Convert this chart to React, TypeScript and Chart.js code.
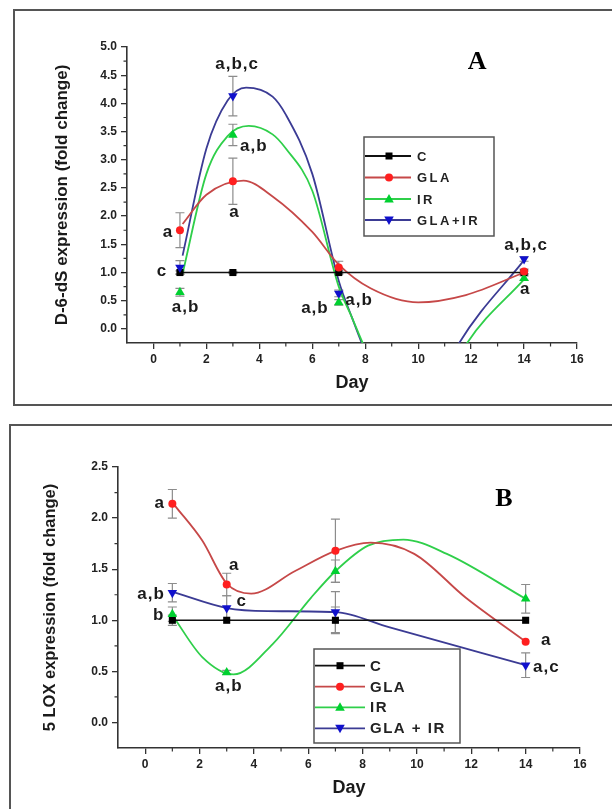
import React, { useEffect, useRef } from 'react';
import { Chart, registerables } from 'chart.js';

Chart.register(...registerables);

const SANS = '"Liberation Sans", Arial, Helvetica, sans-serif';
const SERIF = '"Liberation Serif", "Times New Roman", serif';

// ---------- shared ----------
const days = [1, 3, 7, 14];

// ---------- Panel A : D-6-dS ----------
const aC = [1.0, 1.0, 1.0, 1.0];
const aGLA = [1.75, 2.62, 1.09, 1.02];
const aIR = [0.65, 3.44, 0.47, 0.9];
const aGLAIR = [1.09, 4.13, 0.63, 1.24];
const aCErr = [0.03, 0.02, 0.03, 0.03];
const aGLAErr = [0.31, 0.41, 0.11, 0.04];
const aIRErr = [0.07, 0.19, 0.05, 0.04];
const aGLAIRErr = [0.12, 0.35, 0.06, 0.04];
// fitted spline curves
const aGLAFitX = [1.1, 2.0, 3.4, 4.5, 6.0, 7.0, 8.2, 10.0, 11.8, 14.0];
const aGLAFitY = [1.86, 2.38, 2.63, 2.35, 1.72, 1.14, 0.72, 0.47, 0.6, 1.0];
const aIRFitX = [1.1, 2.0, 2.8, 3.6, 4.5, 5.0, 6.0, 7.0, 7.5, 8.0, 9.9, 11.85, 14.0];
const aIRFitY = [0.98, 2.75, 3.42, 3.6, 3.45, 3.2, 2.45, 0.75, 0.2, -0.35, -2.0, -0.25, 0.88];
const aGLAIRFitX = [1.1, 2.0, 2.8, 3.5, 4.5, 5.0, 6.0, 7.0, 7.5, 8.0, 9.7, 11.55, 14.0];
const aGLAIRFitY = [1.3, 3.2, 4.05, 4.28, 4.12, 3.8, 2.75, 0.85, 0.2, -0.4, -2.0, -0.25, 1.22];
const aLegend = ['C', 'GLA', 'IR', 'GLA+IR'];
const aNotes = [
  { t: 'a,b,c', x: 3.16, y: 4.69 },
  { t: 'a,b', x: 3.79, y: 3.23 },
  { t: 'a', x: 3.06, y: 2.06 },
  { t: 'a', x: 0.55, y: 1.72 },
  { t: 'c', x: 0.32, y: 1.03 },
  { t: 'a,b', x: 1.21, y: 0.39 },
  { t: 'a,b', x: 6.1, y: 0.37 },
  { t: 'a,b', x: 7.77, y: 0.5 },
  { t: 'a,b,c', x: 14.08, y: 1.48 },
  { t: 'a', x: 14.04, y: 0.71 },
];

// ---------- Panel B : 5 LOX ----------
const bC = [1.0, 1.0, 1.0, 1.0];
const bGLA = [2.14, 1.35, 1.68, 0.79];
const bIR = [1.06, 0.49, 1.48, 1.21];
const bGLAIR = [1.27, 1.12, 1.08, 0.56];
const bCErr = [0.05, 0.0, 0.13, 0.0];
const bGLAErr = [0.14, 0.11, 0.31, 0.0];
const bIRErr = [0.07, 0.02, 0.11, 0.14];
const bGLAIRErr = [0.09, 0.12, 0.2, 0.12];
const bGLAFitX = [1.1, 2.1, 3.0, 3.9, 5.5, 7.0, 8.3, 9.9, 11.8, 14.0];
const bGLAFitY = [2.12, 1.78, 1.36, 1.26, 1.48, 1.68, 1.76, 1.65, 1.22, 0.79];
const bIRFitX = [1.05, 2.1, 3.25, 4.7, 6.1, 7.0, 8.2, 9.5, 11.1, 14.0];
const bIRFitY = [1.03, 0.64, 0.47, 0.77, 1.22, 1.48, 1.73, 1.79, 1.65, 1.21];
const bGLAIRFitX = [1.1, 3.0, 4.5, 7.0, 9.0, 14.0];
const bGLAIRFitY = [1.27, 1.12, 1.09, 1.08, 0.93, 0.56];
const bLegend = ['C', 'GLA', 'IR', 'GLA + IR'];
const bNotes = [
  { t: 'a', x: 0.54, y: 2.14 },
  { t: 'a', x: 3.28, y: 1.54 },
  { t: 'a,b', x: 0.22, y: 1.25 },
  { t: 'c', x: 3.55, y: 1.19 },
  { t: 'b', x: 0.5, y: 1.05 },
  { t: 'a,b', x: 3.08, y: 0.35 },
  { t: 'a', x: 14.76, y: 0.8 },
  { t: 'a,c', x: 14.76, y: 0.54 },
];

const STYLE = {
  C: { line: '#111111', marker: '#000000', shape: 'rect' },
  GLA: { line: '#c64848', marker: '#ff1f1f', shape: 'circle' },
  IR: { line: '#2fcf4a', marker: '#00d030', shape: 'triUp' },
  GLAIR: { line: '#3b3b94', marker: '#1010cc', shape: 'triDown' },
};

function makeSeries(c, g, i, gi, ce, ge, ie, gie, gfx, gfy, ifx, ify, gifx, gify) {
  return [
    { key: 'C', values: c, err: ce, fitX: null, fitY: null },
    { key: 'GLA', values: g, err: ge, fitX: gfx, fitY: gfy },
    { key: 'IR', values: i, err: ie, fitX: ifx, fitY: ify },
    { key: 'GLAIR', values: gi, err: gie, fitX: gifx, fitY: gify },
  ];
}

const panelA = {
  series: makeSeries(aC, aGLA, aIR, aGLAIR, aCErr, aGLAErr, aIRErr, aGLAIRErr,
    aGLAFitX, aGLAFitY, aIRFitX, aIRFitY, aGLAIRFitX, aGLAIRFitY),
  yMin: -0.25, yMax: 5.0,
  yTitle: 'D-6-dS expression (fold change)', yTitleSize: 17, yTitlePad: 51.8,
  padding: { left: 0, right: 35, top: 47, bottom: 5 },
  yWidth: 127,
  legendLabels: aLegend,
  legend: { l: 364, t: 137, r: 494, b: 236, rows: [156, 177.5, 199, 220], x0: 365, x1: 411, mx: 389, tx: 417, size: 13, spacing: '2.5px' },
  notes: aNotes,
  letter: { t: 'A', x: 12.23, y: 4.73 },
};

const panelB = {
  series: makeSeries(bC, bGLA, bIR, bGLAIR, bCErr, bGLAErr, bIRErr, bGLAIRErr,
    bGLAFitX, bGLAFitY, bIRFitX, bIRFitY, bGLAIRFitX, bGLAIRFitY),
  yMin: -0.25, yMax: 2.5,
  yTitle: '5 LOX expression (fold change)', yTitleSize: 16.5, yTitlePad: 40.2,
  padding: { left: 0, right: 32, top: 59, bottom: 1 },
  yWidth: 118,
  legendLabels: bLegend,
  legend: { l: 314, t: 241, r: 460, b: 335, rows: [257.7, 278.7, 299.3, 320.3], x0: 315, x1: 365, mx: 340, tx: 370, size: 15, spacing: '1.5px' },
  notes: bNotes,
  letter: { t: 'B', x: 13.2, y: 2.18 },
};

function drawMarker(ctx, shape, x, y, color) {
  ctx.fillStyle = color;
  ctx.beginPath();
  if (shape === 'rect') ctx.rect(x - 3.5, y - 3.5, 7, 7);
  else if (shape === 'circle') ctx.arc(x, y, 4, 0, Math.PI * 2);
  else if (shape === 'triUp') { ctx.moveTo(x, y - 5); ctx.lineTo(x + 4.8, y + 3.5); ctx.lineTo(x - 4.8, y + 3.5); ctx.closePath(); }
  else { ctx.moveTo(x, y + 5); ctx.lineTo(x + 4.8, y - 3.5); ctx.lineTo(x - 4.8, y - 3.5); ctx.closePath(); }
  ctx.fill();
}

function makeDecor(p) {
  return {
    id: 'decor',
    beforeDatasetsDraw(chart) {
      const { ctx } = chart;
      const x = chart.scales.x, y = chart.scales.y;
      ctx.save();
      ctx.strokeStyle = '#8c8c8c';
      ctx.lineWidth = 1.2;
      p.series.forEach((s) => s.values.forEach((v, i) => {
        const e = s.err[i];
        if (!e) return;
        const px = x.getPixelForValue(days[i]);
        const t = y.getPixelForValue(v + e), b = y.getPixelForValue(v - e);
        ctx.beginPath();
        ctx.moveTo(px, t); ctx.lineTo(px, b);
        ctx.moveTo(px - 4.5, t); ctx.lineTo(px + 4.5, t);
        ctx.moveTo(px - 4.5, b); ctx.lineTo(px + 4.5, b);
        ctx.stroke();
      }));
      ctx.restore();
    },
    afterDraw(chart) {
      const { ctx, chartArea } = chart;
      const x = chart.scales.x, y = chart.scales.y;
      ctx.save();
      // minor ticks
      ctx.strokeStyle = '#333';
      ctx.lineWidth = 1.2;
      ctx.beginPath();
      for (let v = 0.25; v < p.yMax; v += 0.5) {
        const py = y.getPixelForValue(v);
        ctx.moveTo(chartArea.left - 3.5, py); ctx.lineTo(chartArea.left, py);
      }
      for (let d = 1; d < 16; d += 2) {
        const px = x.getPixelForValue(d);
        ctx.moveTo(px, chartArea.bottom); ctx.lineTo(px, chartArea.bottom + 3.5);
      }
      ctx.stroke();

      // annotation letters
      ctx.fillStyle = '#1a1a1a';
      ctx.textAlign = 'center';
      ctx.textBaseline = 'middle';
      ctx.font = `bold 17px ${SANS}`;
      (ctx as any).letterSpacing = '1px';
      p.notes.forEach((n) => {
        ctx.fillText(n.t, x.getPixelForValue(n.x), y.getPixelForValue(n.y));
      });
      (ctx as any).letterSpacing = '0px';

      // panel letter
      ctx.font = `bold 26px ${SERIF}`;
      ctx.fillStyle = '#000';
      ctx.fillText(p.letter.t, x.getPixelForValue(p.letter.x), y.getPixelForValue(p.letter.y));

      // legend
      const L = p.legend;
      ctx.fillStyle = '#ffffff';
      ctx.fillRect(L.l, L.t, L.r - L.l, L.b - L.t);
      ctx.strokeStyle = '#555';
      ctx.lineWidth = 1.5;
      ctx.strokeRect(L.l, L.t, L.r - L.l, L.b - L.t);
      p.series.forEach((s, i) => {
        const st = STYLE[s.key];
        const ry = L.rows[i];
        ctx.strokeStyle = st.line;
        ctx.lineWidth = 1.8;
        ctx.beginPath(); ctx.moveTo(L.x0, ry); ctx.lineTo(L.x1, ry); ctx.stroke();
        drawMarker(ctx, st.shape, L.mx, ry, st.marker);
        ctx.fillStyle = '#222';
        ctx.textAlign = 'left';
        ctx.textBaseline = 'middle';
        ctx.font = `bold ${L.size}px ${SANS}`;
        (ctx as any).letterSpacing = L.spacing;
        ctx.fillText(p.legendLabels[i], L.tx, ry + 1);
        (ctx as any).letterSpacing = '0px';
      });
      ctx.restore();
    },
  };
}

function buildConfig(p) {
  const datasets = [];
  p.series.forEach((s) => {
    const st = STYLE[s.key];
    if (s.fitX) {
      datasets.push({
        data: s.fitX.map((v, i) => ({ x: v, y: s.fitY[i] })),
        showLine: true,
        pointRadius: 0,
        borderColor: st.line,
        borderWidth: 1.8,
        cubicInterpolationMode: 'monotone',
        order: 3,
      });
    }
    const pointStyle = st.shape === 'rect' ? 'rect' : st.shape === 'circle' ? 'circle' : 'triangle';
    datasets.push({
      data: days.map((d, i) => ({ x: d, y: s.values[i] })),
      showLine: s.key === 'C',
      borderColor: st.line,
      borderWidth: 1.6,
      tension: 0,
      pointStyle,
      pointRotation: st.shape === 'triDown' ? 180 : 0,
      pointRadius: st.shape === 'rect' ? 5 : st.shape === 'circle' ? 4 : 5.5,
      pointBackgroundColor: st.marker,
      pointBorderColor: st.marker,
      pointBorderWidth: 0,
      order: s.key === 'C' ? 2 : 1,
    });
  });

  return {
    type: 'scatter',
    data: { datasets },
    options: {
      responsive: false,
      animation: false,
      devicePixelRatio: 1,
      events: [],
      layout: { padding: p.padding },
      plugins: { legend: { display: false }, tooltip: { enabled: false } },
      scales: {
        x: {
          type: 'linear',
          min: -1,
          max: 16,
          afterBuildTicks: (s) => { s.ticks = s.ticks.filter((t) => t.value >= 0); },
          afterFit: (s) => { s.height = 60; },
          ticks: {
            stepSize: 2, maxTicksLimit: 100, autoSkip: false, maxRotation: 0, padding: 3,
            color: '#222', font: { size: 12, weight: 'bold', family: SANS },
            callback: (v) => String(v),
          },
          grid: { drawOnChartArea: false, drawTicks: true, tickLength: 6, color: '#333', lineWidth: 1.3 },
          border: { display: true, color: '#333', width: 1.6 },
          title: {
            display: true, text: 'Day', color: '#1a1a1a',
            font: { size: 18, weight: 'bold', family: SANS },
            padding: { top: 0, bottom: 9.2 },
          },
        },
        y: {
          type: 'linear',
          min: p.yMin,
          max: p.yMax,
          afterBuildTicks: (s) => { s.ticks = s.ticks.filter((t) => t.value >= -1e-9); },
          afterFit: (s) => { s.width = p.yWidth; },
          ticks: {
            stepSize: 0.5, maxTicksLimit: 100, autoSkip: false, padding: 4,
            color: '#222', font: { size: 12, weight: 'bold', family: SANS },
            callback: (v) => Number(v).toFixed(1),
          },
          grid: { drawOnChartArea: false, drawTicks: true, tickLength: 6, color: '#333', lineWidth: 1.3 },
          border: { display: true, color: '#333', width: 1.6 },
          title: {
            display: true, text: p.yTitle, color: '#1a1a1a',
            font: { size: p.yTitleSize, weight: 'bold', family: SANS },
            padding: { top: p.yTitlePad, bottom: 0 },
          },
        },
      },
    },
    plugins: [makeDecor(p)],
  };
}

export default function App() {
  const refA = useRef<HTMLCanvasElement>(null);
  const refB = useRef<HTMLCanvasElement>(null);

  useEffect(() => {
    const a = new Chart(refA.current as HTMLCanvasElement, buildConfig(panelA) as any);
    const b = new Chart(refB.current as HTMLCanvasElement, buildConfig(panelB) as any);
    return () => { a.destroy(); b.destroy(); };
  }, []);

  return (
    <div style={{ position: 'fixed', left: 0, top: 0, width: 612, height: 809, overflow: 'hidden', background: '#fff' }}>
      <div style={{ position: 'absolute', left: 13, top: 9, width: 640, height: 397, border: '2px solid #555', boxSizing: 'border-box' }} />
      <div style={{ position: 'absolute', left: 9, top: 424, width: 640, height: 420, border: '2px solid #555', boxSizing: 'border-box' }} />
      <canvas ref={refA} width={612} height={408} style={{ position: 'absolute', left: 0, top: 0, width: 612, height: 408 }} />
      <canvas ref={refB} width={612} height={401} style={{ position: 'absolute', left: 0, top: 408, width: 612, height: 401 }} />
    </div>
  );
}
